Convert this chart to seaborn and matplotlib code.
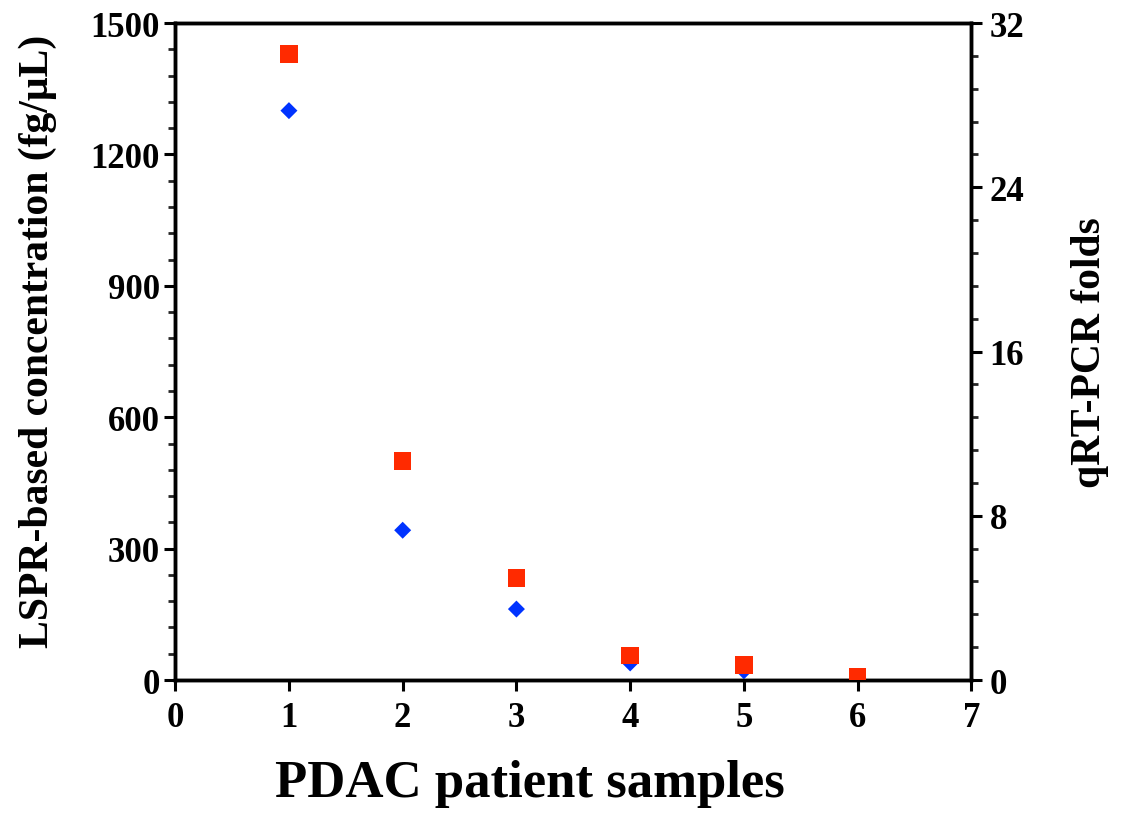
"""
PDAC: LSPR concentration vs qRT-PCR folds (dual y axis scatter)
"""
import pandas as pd
import matplotlib
matplotlib.use("Agg")
import matplotlib.pyplot as plt
from matplotlib.ticker import MultipleLocator
import seaborn as sns

# datos
samples = [1, 2, 3, 4, 5, 6]
lspr_conc = [1300, 342, 162, 39, 21, 5]          # fg/µL (eje izquierdo)
qpcr_folds = [30.5, 10.67, 4.97, 1.19, 0.73, 0.15]  # eje derecho

x_ticks = [0, 1, 2, 3, 4, 5, 6, 7]
left_ticks = [0, 300, 600, 900, 1200, 1500]
right_ticks = [0, 8, 16, 24, 32]

BLUE = "#0033ff"
RED = "#ff2a00"

sns.set_style("ticks")
plt.rcParams["font.family"] = ["Liberation Serif", "DejaVu Serif"]
plt.rcParams["font.weight"] = "bold"

df = pd.DataFrame({"sample": samples, "lspr": lspr_conc, "qpcr": qpcr_folds})

fig = plt.figure(figsize=(11.23, 8.29), dpi=100)
ax = fig.add_axes([0.156, 0.1785, 0.709, 0.7925])
ax2 = ax.twinx()

sns.scatterplot(data=df, x="sample", y="lspr", ax=ax, marker="D", s=75,
                color=BLUE, edgecolor="none", linewidth=0, zorder=3)
sns.scatterplot(data=df, x="sample", y="qpcr", ax=ax2, marker="s", s=160,
                color=RED, edgecolor="none", linewidth=0, zorder=3)

ax.set_xlim(0, 7)
ax.set_ylim(0, 1500)
ax2.set_ylim(0, 32)
ax.set_xticks(x_ticks)
ax.set_yticks(left_ticks)
ax2.set_yticks(right_ticks)
ax.yaxis.set_minor_locator(MultipleLocator(60))
ax2.yaxis.set_minor_locator(MultipleLocator(1.6))

for a in (ax, ax2):
    for sp in a.spines.values():
        sp.set_visible(True)
        sp.set_linewidth(2.5)
        sp.set_color("black")
    a.tick_params(which="major", direction="out", length=8, width=2.2,
                  labelsize=25, colors="black")
    a.tick_params(which="minor", direction="out", length=5, width=2.0)

ax.tick_params(axis="x", which="major", pad=7)
ax.tick_params(axis="y", which="major", pad=3)
ax2.tick_params(axis="y", which="major", pad=5)

for lab in ax.get_xticklabels() + ax.get_yticklabels() + ax2.get_yticklabels():
    lab.set_fontweight("bold")

ax.set_xlabel("PDAC patient samples", fontsize=38, fontweight="bold",
              labelpad=18, color="black")
ax.xaxis.label.set_x(0.445)
ax.set_ylabel("LSPR-based concentration (fg/\u03bcL)", fontsize=30,
              fontweight="bold", labelpad=24, color="black")
ax.yaxis.label.set_y(0.517)
ax2.set_ylabel("qRT-PCR folds", fontsize=30, fontweight="bold",
               labelpad=34, color="black")

ax.grid(False)
ax2.grid(False)

plt.savefig("out.png", dpi=100)
plt.close()
